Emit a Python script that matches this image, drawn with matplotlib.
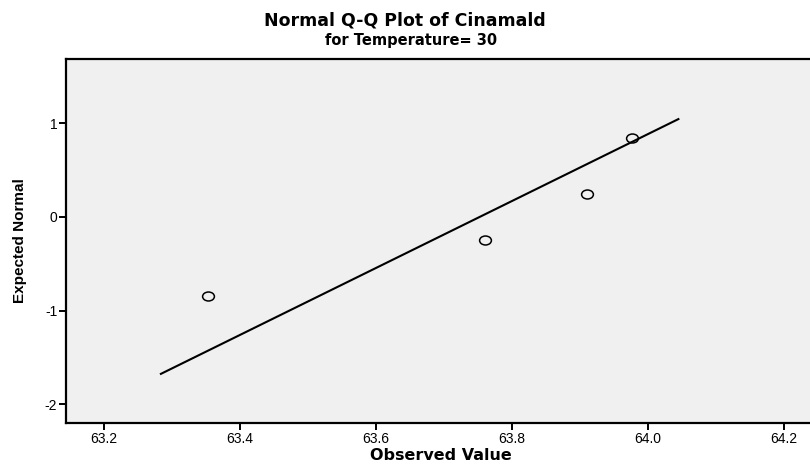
## Normal Q-Q plot of Cinamald, Temperature = 30 (SPSS style)

import numpy as np
import matplotlib.pyplot as plt
from matplotlib.path import Path
from matplotlib.transforms import Affine2D

plt.rcParams['font.family'] = ['Liberation Sans', 'DejaVu Sans']
plt.rcParams['axes.unicode_minus'] = False

## DATA

# Observed values and their expected normal scores
observed = [63.352, 63.760, 63.910, 63.976]
expected = [-0.84, -0.25, 0.25, 0.84]

# Reference line end points
line_x = [63.282, 64.046]
line_y = [-1.68, 1.05]

# Tick labels
xticks = [63.2, 63.4, 63.6, 63.8, 64.0, 64.2]
xlabels = ["63.2", "63.4", "63.6", "63.8", "64.0", "64.2"]
yticks = [-2, -1, 0, 1]

## PLOT

fig = plt.figure(figsize=(8.1, 4.65), dpi=100)
ax = fig.add_axes([66.3 / 810, 41.7 / 465, (815 - 66.3) / 810, (423.3 - 58.7) / 465])
ax.set_facecolor("#f0f0f0")

# slightly flattened circle marker like SPSS draws
ellipse = Path.unit_circle().transformed(Affine2D().scale(1.0, 0.76))

ax.plot(line_x, line_y, color="black", linewidth=1.5, solid_capstyle="butt")
ax.plot(observed, expected, linestyle="none", marker=ellipse, markersize=8.5,
        markerfacecolor="none", markeredgecolor="black", markeredgewidth=1.1)

ax.set_xlim(63.1442, 64.2456)
ax.set_ylim(-2.203, 1.69)
ax.set_xticks(xticks)
ax.set_xticklabels(xlabels)
ax.set_yticks(yticks)

for side in ["left", "bottom", "top"]:
    ax.spines[side].set_linewidth(1.6)
    ax.spines[side].set_color("black")
ax.spines["right"].set_visible(False)

ax.tick_params(direction="out", length=5, width=1.4, labelsize=10, pad=1.5,
               colors="black")

# the original text looks stretched sideways, DejaVu bold is wider
ax.set_xlabel("Observed Value", fontsize=11.5, fontweight="bold", labelpad=1,
              family=["DejaVu Sans"])
ax.set_ylabel("Expected Normal", fontsize=11, fontweight="bold", labelpad=13)

fig.text(0.5, 1 - 21 / 465, "Normal Q-Q Plot of Cinamald",
         ha="center", va="center", fontsize=12.5, fontweight="bold",
         family=["DejaVu Sans"])
fig.text(0.507, 1 - 40 / 465, "for Temperature= 30",
         ha="center", va="center", fontsize=10.5, fontweight="bold",
         family=["DejaVu Sans"])

fig.savefig("out.png", dpi=100)
